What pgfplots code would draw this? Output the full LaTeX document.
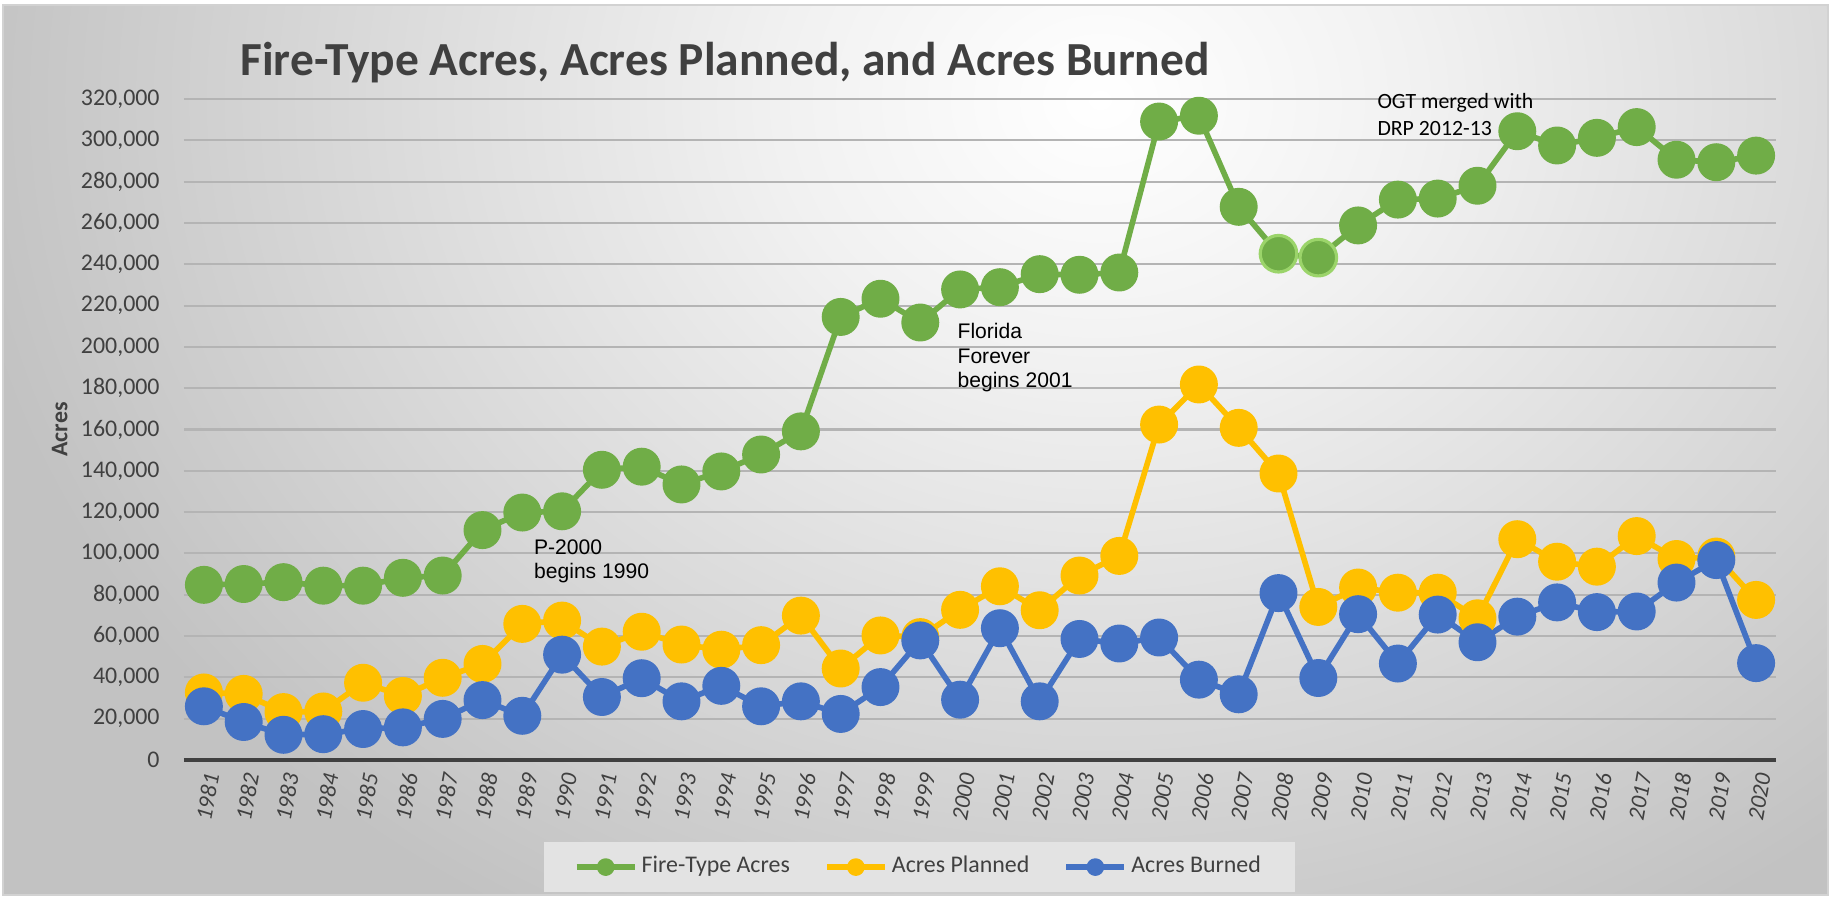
\documentclass[border=0pt]{standalone}
\usepackage{fontspec}
\setmainfont{Carlito}
\newfontfamily\arial{Liberation Sans}
\usepackage{pgfplots}
\pgfplotsset{compat=1.18}
\usepackage{pgfplotstable}
\usetikzlibrary{backgrounds}

\definecolor{firegreen}{HTML}{70AD47}
\definecolor{firegreenlt}{HTML}{9BD46A}
\definecolor{plannedgold}{HTML}{FFC000}
\definecolor{burnedblue}{HTML}{4472C4}
\definecolor{txtgray}{HTML}{404040}
\definecolor{gridgray}{HTML}{B4B4B4}
\definecolor{legendfill}{HTML}{E3E3E3}
\definecolor{bgA}{HTML}{FFFFFF}
\definecolor{bgB}{HTML}{F1F1F1}
\definecolor{bgC}{HTML}{DCDCDC}
\definecolor{bgD}{HTML}{C2C2C2}
% TikZ maps 25bp to the edge of the shaded path
\pgfdeclareradialshading{chartbg}{\pgfpoint{0bp}{0bp}}{%
  color(0bp)=(bgA); color(7bp)=(bgB); color(15bp)=(bgC); color(25bp)=(bgD); color(50bp)=(bgD)}

% acres per year
\pgfplotstableread{
year fire   planned burned
1981 84800  32700   26000
1982 85200  32000   18400
1983 86100  23200   12200
1984 84400  23500   12500
1985 84400  37400   15000
1986 88200  31000   15800
1987 89300  39800   19900
1988 111300 46500   29000
1989 119800 65900   21400
1990 120400 67500   51000
1991 140500 54900   30500
1992 142000 62100   39600
1993 133400 55900   28400
1994 139700 53400   35900
1995 147900 55600   26000
1996 159100 69900   28400
1997 214500 44300   22300
1998 223300 60300   35300
1999 211800 59500   57900
2000 227800 72700   29200
2001 228900 84100   63800
2002 235200 72500   28400
2003 234900 89300   58600
2004 236000 98800   56400
2005 309100 162400  59300
2006 311900 181800  38900
2007 267800 160800  31800
2008 245100 138700  80800
2009 243200 74100   39700
2010 258800 83500   70600
2011 271300 81000   46700
2012 271800 81000   70400
2013 278000 68600   57000
2014 304400 106900  69400
2015 297500 96000   76300
2016 301200 93600   71600
2017 306400 108400  71900
2018 290600 97300   85900
2019 289400 98500   96800
2020 292600 77500   46900
}\acres

\begin{document}
\begin{tikzpicture}
\begin{axis}[
  name=ax, at={(0,0)}, anchor=south west,
  width=15.92cm, height=6.61cm, scale only axis,
  xmin=1980.5, xmax=2020.5, ymin=0, ymax=320000,
  xtick={1981,...,2020}, ytick={0,20000,...,320000},
  scaled y ticks=false,
  separate axis lines,
  axis x line*=bottom, axis y line*=left,
  x axis line style={draw=txtgray, line width=1.3pt, -},
  y axis line style={draw=none},
  major tick length=0pt,
  ymajorgrids, grid style={gridgray, line width=0.6pt},
  /pgf/number format/assume math mode=true,
  yticklabel style={font=\fontsize{6.8}{8}\selectfont, color=txtgray,
    xshift=-0.12cm, /pgf/number format/.cd, fixed, 1000 sep={,}},
  xticklabel style={font=\itshape\fontsize{6.6}{7}\selectfont, color=txtgray,
    rotate=80, anchor=east, yshift=-0.1cm, /pgf/number format/1000 sep={}},
  ylabel={Acres},
  ylabel style={font=\bfseries\fontsize{6.8}{8}\selectfont, color=txtgray,
    at={(axis description cs:-0.078,0.5)}, anchor=center},
  clip=false,
  every axis plot/.append style={line width=1.6pt, line join=round, mark=*,
    mark size=5.2pt},
  legend columns=3,
  legend image code/.code={
    \draw[#1, mark=none, line width=1.6pt] (0cm,0cm) -- (0.58cm,0cm);
    \fill[#1] (0.29cm,0cm) circle (0.06cm);},
  legend style={at={(0.462,-0.162)}, anchor=center, fill=legendfill, draw=none,
    font=\fontsize{6.8}{8}\selectfont, text=txtgray,
    inner xsep=0.3cm, inner ysep=0.1cm,
    nodes={inner sep=1.2pt},
    /tikz/every even column/.append style={column sep=0.3cm}},
]
\addplot[color=firegreen, mark options={fill=firegreen, draw=firegreen, line width=0.4pt}]
  table[x=year, y=fire] {\acres};
\addlegendentry{Fire-Type Acres}
\addplot[forget plot, only marks, mark options={fill=firegreen, draw=firegreenlt, line width=0.9pt}]
  coordinates {(2008,245100) (2009,243200)};
\addplot[color=plannedgold, mark options={fill=plannedgold, draw=plannedgold, line width=0.4pt}]
  table[x=year, y=planned] {\acres};
\addlegendentry{Acres Planned}
\addplot[color=burnedblue, mark options={fill=burnedblue, draw=burnedblue, line width=0.4pt}]
  table[x=year, y=burned] {\acres};
\addlegendentry{Acres Burned}

% notes on the chart
\node[anchor=north west, inner sep=0pt, align=left, font=\arial\fontsize{6}{6.8}\selectfont]
  at (axis cs:1989.28,107000) {P-2000\\begins 1990};
\node[anchor=north west, inner sep=0pt, align=left, font=\arial\fontsize{6}{7}\selectfont]
  at (axis cs:1999.92,211800) {Florida\\Forever\\begins 2001};
\node[anchor=north west, inner sep=0pt, align=left, font=\fontsize{6.2}{7.6}\selectfont]
  at (axis cs:2010.47,323000) {OGT merged with\\DRP 2012-13};

\node[anchor=base west, inner sep=0pt, text=txtgray, font=\bfseries\fontsize{13.5}{16}\selectfont]
  at (rel axis cs:0.035,1.035) {Fire-Type Acres, Acres Planned, and Acres Burned};
\end{axis}

\begin{scope}[on background layer]
  \fill[white] (-1.84,-1.40) rectangle (16.51,7.60);
  \begin{scope}
    \clip (-1.81,-1.35) rectangle (16.44,7.55);
    \fill[bgD] (-1.81,-1.35) rectangle (16.44,7.55);
    \shade[shading=chartbg] (9.16,6.60) ellipse (11.5cm and 9.5cm);
  \end{scope}
  \draw[gray!35, line width=0.5pt] (-1.81,-1.35) rectangle (16.44,7.55);
\end{scope}
\pgfresetboundingbox
\useasboundingbox (-1.84,-1.40) rectangle (16.51,7.60);
\end{tikzpicture}
\end{document}
